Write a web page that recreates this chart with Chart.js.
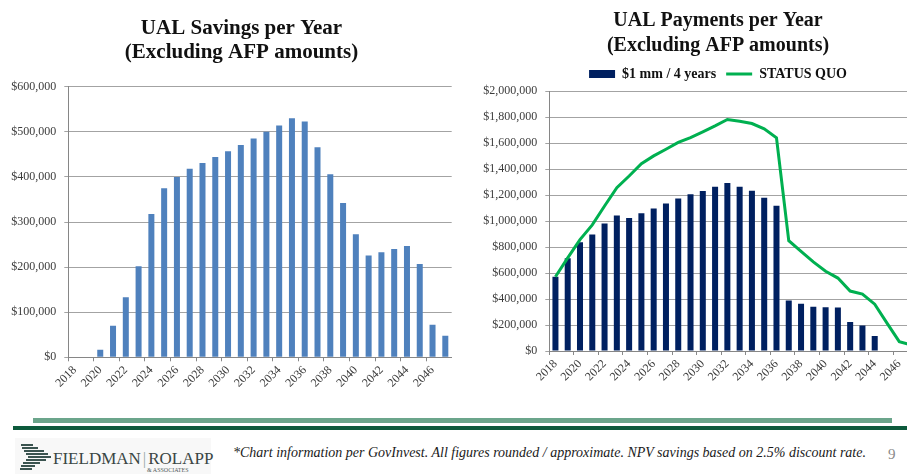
<!DOCTYPE html>
<html><head><meta charset="utf-8">
<script src="https://cdn.jsdelivr.net/npm/chart.js@4.4.1/dist/chart.umd.min.js"></script>
<style>
html,body{margin:0;padding:0;width:907px;height:474px;overflow:hidden;background:#fff;}
body{position:relative;}
#w1{position:absolute;left:0;top:0;width:483px;height:400px;}
#w2{position:absolute;left:460px;top:0;width:480px;height:400px;}
#bar1{position:absolute;left:33px;top:418px;width:859px;height:5px;background:#6ba58b;}
#bar2{position:absolute;left:13px;top:426px;width:894px;height:4px;background:#0d5a3c;}
#logo{position:absolute;left:15px;top:438px;width:196px;height:36px;background:#f8f8f8;}
.st{position:absolute;height:2px;background:#3b5450;}
#lt{position:absolute;left:53px;top:449px;font-family:"Liberation Serif",serif;font-size:17px;color:#3a4644;white-space:nowrap;}
#la{position:absolute;left:147px;top:467px;font-family:"Liberation Serif",serif;font-size:6px;color:#55605e;white-space:nowrap;}
#note{position:absolute;left:233px;top:445px;font-family:"Liberation Serif",serif;font-style:italic;font-size:14px;color:#1a1a1a;white-space:nowrap;}
#pg{position:absolute;left:888px;top:446px;font-family:"Liberation Serif",serif;font-size:15px;color:#8a8a8a;}
</style></head>
<body>
<div id="w1"><canvas id="c1"></canvas></div>
<div id="w2"><canvas id="c2"></canvas></div>
<div id="bar1"></div><div id="bar2"></div>
<div id="logo">
  <div class="st" style="left:6px;top:6px;width:12px"></div>
  <div class="st" style="left:7px;top:9px;width:16px"></div>
  <div class="st" style="left:9px;top:12px;width:20px"></div>
  <div class="st" style="left:11px;top:15px;width:22px"></div>
  <div class="st" style="left:13px;top:18px;width:23px"></div>
  <div class="st" style="left:11px;top:21px;width:20px"></div>
  <div class="st" style="left:8px;top:24px;width:17px"></div>
  <div class="st" style="left:6px;top:27px;width:14px"></div>
  <div class="st" style="left:5px;top:30px;width:12px"></div>
</div>
<div id="lt">FIELDMAN<span style="color:#9aa;margin:0 2px">|</span>ROLAPP</div>
<div id="la">&amp; ASSOCIATES</div>
<div id="note">*Chart information per GovInvest. All figures rounded / approximate. NPV savings based on 2.5% discount rate.</div>
<div id="pg">9</div>
<script>
const years = ['2018','2019','2020','2021','2022','2023','2024','2025','2026','2027','2028','2029','2030','2031','2032','2033','2034','2035','2036','2037','2038','2039','2040','2041','2042','2043','2044','2045','2046','2047'];
const savings = [0,0,17000,70000,133000,202000,318000,375000,400000,418000,431000,444000,457000,471000,485000,500000,514000,530000,523000,466000,406000,342000,273000,226000,233000,240000,247000,207000,72000,48000];
const payments1mm = [571000,713000,837000,896000,981000,1042000,1024000,1060000,1097000,1135000,1174000,1205000,1230000,1264000,1292000,1264000,1233000,1179000,1117000,389000,363000,340000,337000,335000,224000,196000,116000,0,0,0];
const statusQuo = [571000,716000,857000,970000,1115000,1256000,1346000,1441000,1501000,1552000,1604000,1642000,1686000,1732000,1781000,1768000,1750000,1709000,1640000,849000,767000,685000,613000,561000,461000,438000,360000,214000,72000,46000];
const leftTitle = ['UAL Savings per Year','(Excluding AFP amounts)'];
const rightTitle = ['UAL Payments per Year','(Excluding AFP amounts)'];
const seriesNames = ['$1 mm / 4 years','STATUS QUO'];
const leftMax = 600000, leftStep = 100000;
const rightMax = 2000000, rightStep = 200000;

const SERIF = '"Liberation Serif", "Times New Roman", serif';
const money = v => '$' + Number(v).toLocaleString('en-US');
const tickFont = {family: SERIF, size: 12};
const tickColor = '#3c3c3c';

function xScale(h) {
  return {
    type: 'category', offset: true,
    grid: {offset: true, drawOnChartArea: false, tickLength: 4,
      color: c => (c.index % 2 === 0 ? '#888' : 'rgba(0,0,0,0)'), lineWidth: 1},
    border: {color: '#868686', width: 1},
    ticks: {autoSkip: false, maxRotation: 45, minRotation: 45, padding: 2, font: tickFont, color: tickColor,
      callback: function(v, i) { return i % 2 === 0 ? this.getLabelForValue(v) : ''; }},
    afterFit: s => { s.height = h; }
  };
}
function yScale(max, step, w) {
  return {
    min: 0, max: max,
    grid: {color: '#a3a3a3', lineWidth: 1, tickLength: 4},
    border: {color: '#868686', width: 1},
    ticks: {stepSize: step, font: tickFont, color: tickColor, padding: 8, callback: v => money(v)},
    afterFit: s => { s.width = w; s._computeLabelArea = () => undefined; }
  };
}

new Chart(document.getElementById('c1'), {
  type: 'bar',
  data: {labels: years, datasets: [{label: 'Savings', data: savings, backgroundColor: '#4f81bd', borderWidth: 0, barPercentage: 0.47, categoryPercentage: 1}]},
  options: {
    responsive: true, maintainAspectRatio: false, animation: false,
    layout: {padding: {left: 31.3, right: 31.3, top: 0, bottom: 0}},
    plugins: {
      legend: {display: false}, tooltip: {enabled: false},
      title: {display: true, text: leftTitle, color: '#111', font: {family: SERIF, size: 21, weight: 'bold', lineHeight: 1.12}, padding: {top: 17, bottom: 22.7}}
    },
    scales: {x: xScale(42.7), y: yScale(leftMax, leftStep, 37)}
  }
});

new Chart(document.getElementById('c2'), {
  type: 'bar',
  data: {labels: years, datasets: [
    {type: 'bar', label: seriesNames[0], data: payments1mm, backgroundColor: '#002060', borderWidth: 0, barPercentage: 0.49, categoryPercentage: 1, order: 2, pointStyle: 'rect'},
    {type: 'line', label: seriesNames[1], data: statusQuo, borderColor: '#00b050', backgroundColor: '#00b050', borderWidth: 3, pointRadius: 0, tension: 0, fill: false, order: 1, pointStyle: 'line'}
  ]},
  options: {
    responsive: true, maintainAspectRatio: false, animation: false,
    layout: {padding: {left: 58.3, right: 22.3, top: 0, bottom: 0}},
    plugins: {
      tooltip: {enabled: false},
      title: {display: true, text: rightTitle, color: '#111', font: {family: SERIF, size: 20, weight: 'bold', lineHeight: 1.25}, padding: {top: 8, bottom: -1}},
      legend: {display: true, position: 'top',
        labels: {usePointStyle: true, pointStyleWidth: 26, boxHeight: 8, padding: 10, color: '#111',
          font: {family: SERIF, size: 14, weight: 'bold'},
          sort: (a, b) => a.datasetIndex - b.datasetIndex}}
    },
    scales: {x: xScale(49), y: yScale(rightMax, rightStep, 31)}
  }
});
</script>
</body></html>
